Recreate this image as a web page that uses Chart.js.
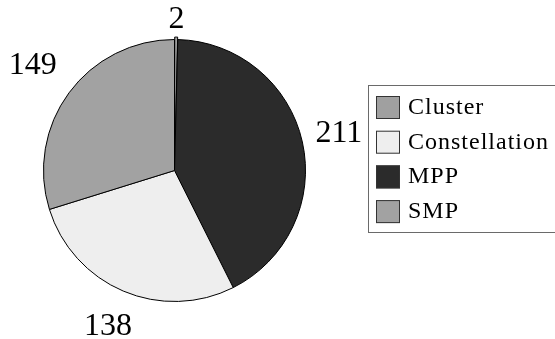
<!DOCTYPE html>
<html>
<head>
<meta charset="utf-8">
<script src="https://cdn.jsdelivr.net/npm/chart.js@4/dist/chart.umd.min.js"></script>
<style>
  html, body { margin: 0; padding: 0; background: #ffffff; }
  canvas { display: block; }
</style>
</head>
<body>
<canvas id="pie" width="555" height="339"></canvas>
<script>
// Slices in drawing order (clockwise from 12 o'clock)
const categories = ['Cluster', 'MPP', 'Constellation', 'SMP'];
const counts = [2, 211, 138, 149];
// Order of the entries in the legend box
const legendOrder = ['Cluster', 'Constellation', 'MPP', 'SMP'];
const sliceColors = {
  Cluster: '#a0a0a0',
  Constellation: '#eeeeee',
  MPP: '#2b2b2b',
  SMP: '#a2a2a2'
};
// The Cluster slice is pulled slightly out of the pie
const sliceOffsets = { Cluster: 5, Constellation: 0, MPP: 0, SMP: 0 };
// Clearance between each slice and its value label
const labelGaps = { Cluster: 3, Constellation: 19, MPP: 12, SMP: 19 };

const SERIF = '"Liberation Serif", "DejaVu Serif", serif';

// Value labels placed outside each slice, along its mid-angle
const valueLabels = {
  id: 'valueLabels',
  afterDatasetsDraw(chart) {
    const ctx = chart.ctx;
    const meta = chart.getDatasetMeta(0);
    const values = chart.data.datasets[0].data;
    const names = chart.data.labels;
    ctx.save();
    ctx.font = '32px ' + SERIF;
    ctx.fillStyle = '#000000';
    ctx.textAlign = 'center';
    ctx.textBaseline = 'middle';
    meta.data.forEach((arc, i) => {
      const p = arc.getProps(['x', 'y', 'startAngle', 'endAngle', 'outerRadius'], true);
      const mid = (p.startAngle + p.endAngle) / 2;
      const cx = Math.cos(mid), cy = Math.sin(mid);
      const text = String(values[i]);
      const w = ctx.measureText(text).width;
      const h = 23;
      const off = arc.options.offset || 0;
      const dist = p.outerRadius + off + labelGaps[names[i]] +
                   Math.abs(cx) * w / 2 + Math.abs(cy) * h / 2;
      ctx.fillText(text, p.x + cx * dist, p.y + cy * dist);
    });
    ctx.restore();
  }
};

// Boxed legend to the right of the pie
const boxLegend = {
  id: 'boxLegend',
  afterDraw(chart) {
    const ctx = chart.ctx;
    const left = 368, top = 85, height = 147;
    ctx.save();
    ctx.fillStyle = '#ffffff';
    ctx.fillRect(left, top, chart.width - left + 5, height);
    ctx.strokeStyle = '#6a6a6a';
    ctx.lineWidth = 1;
    ctx.strokeRect(left + 0.5, top + 0.5, chart.width - left + 5, height);
    ctx.font = '24px ' + SERIF;
    if ('letterSpacing' in ctx) ctx.letterSpacing = '1px';
    ctx.textAlign = 'left';
    ctx.textBaseline = 'alphabetic';
    legendOrder.forEach((name, i) => {
      const y = top + 11 + i * 34.7;
      ctx.fillStyle = sliceColors[name];
      ctx.fillRect(376, y, 24, 23);
      ctx.strokeStyle = '#333333';
      ctx.strokeRect(376.5, y + 0.5, 23, 22);
      ctx.fillStyle = '#000000';
      ctx.fillText(name, 408, y + 18);
    });
    ctx.restore();
  }
};

new Chart(document.getElementById('pie'), {
  type: 'pie',
  data: {
    labels: categories,
    datasets: [{
      data: counts,
      backgroundColor: categories.map(c => sliceColors[c]),
      borderColor: '#000000',
      borderWidth: 1,
      offset: categories.map(c => sliceOffsets[c])
    }]
  },
  options: {
    responsive: false,
    animation: false,
    radius: 131,
    layout: { padding: { left: 43, right: 249, top: 40, bottom: 38 } },
    plugins: {
      legend: { display: false },
      tooltip: { enabled: false }
    }
  },
  plugins: [valueLabels, boxLegend]
});
</script>
</body>
</html>
